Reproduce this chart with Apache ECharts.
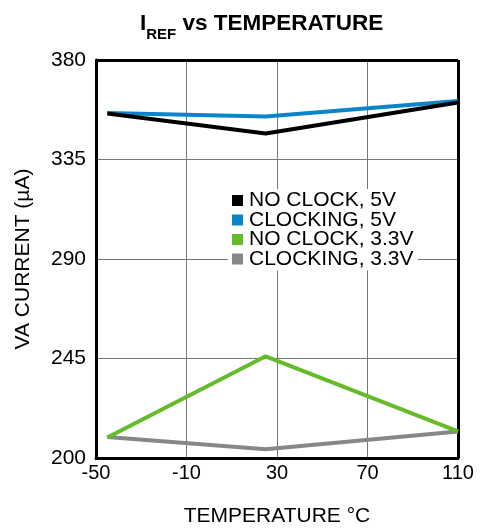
<!DOCTYPE html>
<html><head><meta charset="utf-8">
<script src="https://cdn.jsdelivr.net/npm/echarts@6/dist/echarts.min.js"></script>
<style>html,body{margin:0;padding:0;background:#fff}#c{width:486px;height:532px}</style>
</head><body><div id="c"></div>
<script>
var temps = [-45, 25, 110];
var noClock5V = [355.8, 346.8, 360.8];
var clocking5V = [356, 354.5, 361.5];
var noClock33V = [209.3, 246, 212];
var clocking33V = [209.5, 204, 212];
var seriesNames = ['NO CLOCK, 5V', 'CLOCKING, 5V', 'NO CLOCK, 3.3V', 'CLOCKING, 3.3V'];
var colors = ['#000000', '#0a86c8', '#66bb2a', '#878787'];
var seriesData = [noClock5V, clocking5V, noClock33V, clocking33V];

var chart = echarts.init(document.getElementById('c'), null, {renderer: 'canvas'});
var font = 'Liberation Sans, Arial, sans-serif';
chart.setOption({
  animation: false,
  title: {
    text: '{i|I}{s|REF}{i| vs TEMPERATURE}',
    left: 135, top: 4,
    textStyle: {
      rich: {
        i: {fontFamily: font, fontWeight: 'bold', fontSize: 22.5, color: '#000', verticalAlign: 'bottom', lineHeight: 26},
        s: {fontFamily: font, fontWeight: 'bold', fontSize: 15, color: '#000', verticalAlign: 'bottom', lineHeight: 18, padding: [0, 0, -7, 0]}
      }
    }
  },
  legend: {
    orient: 'vertical', left: 228, top: 189,
    backgroundColor: '#fff', padding: [1, 4, 1, 4],
    itemWidth: 11, itemHeight: 11, itemGap: -1.5, icon: 'rect',
    textStyle: {fontFamily: font, fontSize: 21, lineHeight: 19, color: '#000', padding: [0, 0, 0, 1]},
    data: seriesNames
  },
  grid: {left: 96, right: 28, top: 60, bottom: 73, containLabel: false},
  xAxis: {
    type: 'value', min: -50, max: 110, interval: 40,
    name: 'TEMPERATURE °C', nameLocation: 'middle', nameGap: 48,
    nameTextStyle: {fontFamily: font, fontSize: 21, color: '#000'},
    axisLine: {show: true, onZero: false, lineStyle: {color: '#000', width: 3}},
    axisTick: {show: false},
    axisLabel: {fontFamily: font, fontSize: 20, color: '#000', margin: 5},
    splitLine: {show: true, lineStyle: {color: '#777', width: 1}}
  },
  yAxis: {
    type: 'value', min: 200, max: 380, interval: 45,
    name: 'VA CURRENT (µA)', nameLocation: 'middle', nameGap: 62, nameRotate: 90,
    nameTextStyle: {fontFamily: font, fontSize: 21, color: '#000'},
    axisLine: {show: true, onZero: false, lineStyle: {color: '#000', width: 3}},
    axisTick: {show: false},
    axisLabel: {fontFamily: font, fontSize: 21, color: '#000', margin: 10},
    splitLine: {show: true, lineStyle: {color: '#777', width: 1}}
  },
  series: seriesData.map(function (d, i) {
    return {
      name: seriesNames[i], type: 'line', symbol: 'none',
      data: temps.map(function (t, j) { return [t, d[j]]; }),
      lineStyle: {color: colors[i], width: 4}, itemStyle: {color: colors[i]},
      z: 10 - i
    };
  }).concat([{
    type: 'line', silent: true, symbol: 'none', data: [],
    markLine: {
      silent: true, symbol: 'none', label: {show: false},
      lineStyle: {color: '#000', width: 3, type: 'solid'},
      data: [[{coord: [-50, 380]}, {coord: [110, 380]}], [{coord: [110, 380]}, {coord: [110, 200]}]]
    }
  }])
});
</script></body></html>
